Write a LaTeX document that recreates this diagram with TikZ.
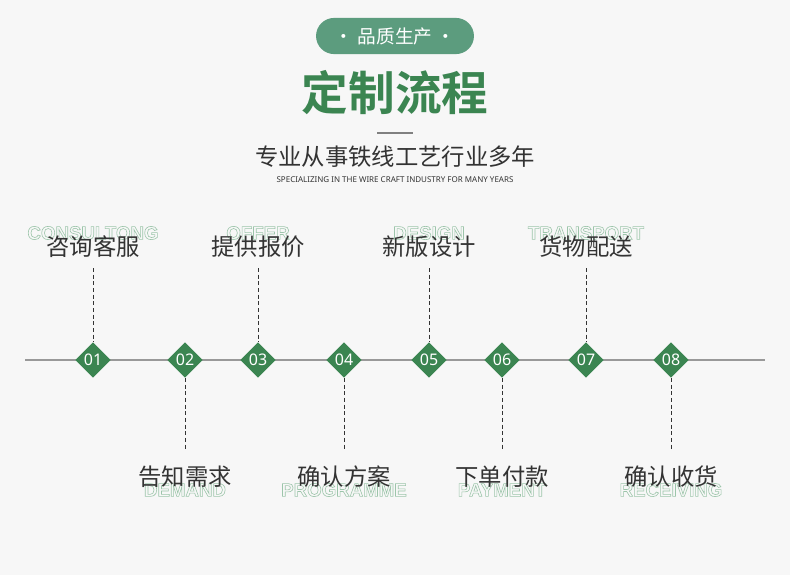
\documentclass[tikz,border=0pt]{standalone}
\usepackage{fontspec}
\setmainfont{Noto Sans}
\newfontfamily\engb{Liberation Sans Bold}
\newfontfamily\cjk{Noto Sans CJK SC}
\newfontfamily\cjkb{Noto Sans CJK SC Bold}
\newcommand{\outl}[1]{\special{pdf:literal direct 1 Tr 0.45 w}#1\special{pdf:literal direct 0 Tr}}
\definecolor{bg}{HTML}{F7F7F7}
\definecolor{gr}{HTML}{3B8551}
\definecolor{pill}{HTML}{5C9C7E}
\definecolor{txt}{HTML}{333333}
\definecolor{ol}{HTML}{9CC5AA}
\usetikzlibrary{shapes.geometric}
\begin{document}
\begin{tikzpicture}[x=0.75pt,y=-0.75pt,
  dia/.style={diamond,fill=gr,minimum size=26.5pt,inner sep=0pt,text=white,font=\fontsize{12}{12}\selectfont},
  lab/.style={font=\cjk\fontsize{17.5}{17.5}\selectfont,text=txt,inner sep=0pt},
  eng/.style={font=\engb\fontsize{14}{14}\selectfont,text=ol,inner sep=0pt},
  dl/.style={dashed,dash pattern=on 3pt off 2pt,thin,draw=txt}]
\fill[bg] (0,0) rectangle (790,575);
\node[fill=pill,rounded corners=13.5bp,minimum width=118bp,minimum height=27bp,text=white,font=\cjk\fontsize{14}{14}\selectfont] (pill) at (395,36) {·\ 品质生产\ ·};
\node[font=\cjkb\fontsize{35}{35}\selectfont,text=gr] (title) at (395,93) {定制流程};
\draw[gray,line width=1pt] (377,133) -- (413,133);
\node[font=\cjk\fontsize{17.5}{17.5}\selectfont,text=txt] (sub) at (395,157) {专业从事铁线工艺行业多年};
\node[font=\fontsize{6}{6}\selectfont,text=txt] (sube) at (395,180) {SPECIALIZING IN THE WIRE CRAFT INDUSTRY FOR MANY YEARS};
\coordinate (L) at (25,360); \coordinate (R) at (765,360);
\draw[gray!80,line width=1.2pt] (L) -- (R);
\foreach \n/\x/\up/\c/\e in {01/93/1/咨询客服/CONSULTONG,02/185/0/告知需求/DEMAND,03/258/1/提供报价/OFFER,04/344/0/确认方案/PROGRAMME,05/429/1/新版设计/DESIGN,06/502/0/下单付款/PAYMENT,07/586/1/货物配送/TRANSPORT,08/671/0/确认收货/RECEIVING}{
  \node[dia] (d\n) at (\x,360) {\n};
  \ifnum\up=1
    \node[eng] (e\n) at (\x,233) {\outl{\e}};
    \node[lab] (l\n) at (\x,247) {\c};
    \coordinate (t\n) at (\x,268);
    \draw[dl] (t\n) -- (d\n.north);
  \else
    \node[eng] (e\n) at (\x,490) {\outl{\e}};
    \node[lab] (l\n) at (\x,477) {\c};
    \coordinate (t\n) at (\x,450);
    \draw[dl] (d\n.south) -- (t\n);
  \fi
}
\end{tikzpicture}
\end{document}
